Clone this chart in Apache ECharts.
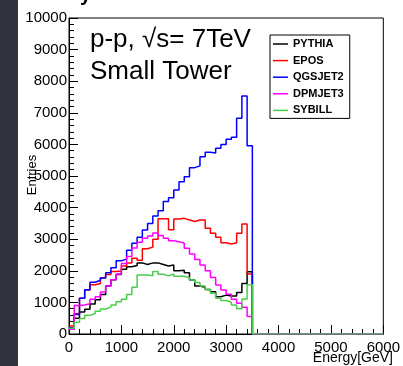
<!DOCTYPE html>
<html>
<head>
<meta charset="utf-8">
<script src="https://cdn.jsdelivr.net/npm/echarts@6/dist/echarts.min.js"></script>
<style>
  html, body { margin: 0; padding: 0; background: #ffffff; }
  #chart { width: 403px; height: 366px; }
</style>
</head>
<body>
<div id="chart"></div>
<script>
// Energy deposit spectra in the small tower, p-p collisions at 7 TeV.
// Bins are 100 GeV wide; the last edge closes the final filled bin.
const binEdges = [0, 100, 200, 300, 400, 500, 600, 700, 800, 900,
  1000, 1100, 1200, 1300, 1400, 1500, 1600, 1700, 1800, 1900,
  2000, 2100, 2200, 2300, 2400, 2500, 2600, 2700, 2800, 2900,
  3000, 3100, 3200, 3300, 3400, 3500];

const pythia = [150, 500, 700, 780, 950, 1080, 1250, 1520, 1720, 1880,
  2050, 2130, 2170, 2250, 2200, 2250, 2250, 2200, 2150, 2180,
  2000, 2020, 1940, 1710, 1520, 1480, 1410, 1340, 1180, 1230,
  1200, 1200, 1310, 1600, 1970];

const epos = [250, 640, 1130, 1390, 1560, 1600, 1780, 1880, 1980, 1990,
  2150, 2250, 2400, 2330, 2700, 2750, 3000, 3650, 3650, 3300,
  3640, 3660, 3610, 3560, 3610, 3610, 3350, 3190, 3060, 2890,
  2850, 2890, 3190, 3480, 1900];

const qgsjet2 = [200, 620, 1130, 1400, 1640, 1700, 1770, 1940, 2100, 2320,
  2370, 2650, 2870, 3060, 3290, 3500, 3735, 3900, 4190, 4315,
  4560, 4820, 4980, 5265, 5320, 5610, 5750, 5730, 5880, 6000,
  6160, 6225, 6830, 7530, 5960];

const dpmjet3 = [150, 900, 920, 960, 1100, 1180, 1330, 1520, 1720, 1900,
  2230, 2450, 2720, 2900, 3030, 3100, 3200, 3120, 3030, 2950,
  2920, 2870, 2710, 2530, 2360, 2180, 2000, 1790, 1550, 1390,
  1255, 1100, 970, 850, 550];

const sybill = [180, 370, 490, 590, 650, 720, 790, 850, 920, 1020,
  1100, 1250, 1480, 1870, 1870, 1840, 1980, 1890, 1840, 1900,
  1830, 1830, 1780, 1710, 1630, 1520, 1410, 1290, 1130, 1060,
  1000, 920, 800, 1110, 1560];

const seriesNames = ['PYTHIA', 'EPOS', 'QGSJET2', 'DPMJET3', 'SYBILL'];
const seriesValues = [pythia, epos, qgsjet2, dpmjet3, sybill];
const seriesColors = ['#000000', '#ff0000', '#0000ff', '#ff00ff', '#4ccc4c'];

const X_MIN = 0, X_MAX = 6000, X_STEP = 1000;
const Y_MIN = 0, Y_MAX = 10000, Y_STEP = 1000;

const FONT = '"Liberation Sans", Arial, Helvetica, sans-serif';

// Histogram outline: each bin is drawn from its lower edge, then the
// spectrum is empty (zero) up to the end of the axis.
function histData(values) {
  const pts = values.map((v, i) => [binEdges[i], v]);
  pts.push([binEdges[binEdges.length - 1], 0]);
  pts.push([X_MAX, 0]);
  return pts;
}

const plainNumber = v => String(v);

const chart = echarts.init(document.getElementById('chart'), null, { renderer: 'canvas' });

const axisBlack = { color: '#000000', width: 1 };

chart.setOption({
  animation: false,
  backgroundColor: '#ffffff',
  textStyle: { fontFamily: FONT },
  grid: {
    left: 69, right: 10, top: 18, bottom: 32,
    show: true, borderColor: '#000000', borderWidth: 1,
    backgroundColor: '#ffffff'
  },
  legend: {
    orient: 'vertical',
    left: 270, top: 35,
    data: seriesNames,
    icon: 'rect',
    backgroundColor: '#ffffff',
    borderColor: '#000000',
    borderWidth: 1,
    borderRadius: 0,
    padding: [3, 6, 2, 3],
    itemWidth: 15,
    itemHeight: 1.5,
    itemGap: 4.6,
    itemTextGap: 5,
    textStyle: { fontFamily: FONT, fontSize: 11, fontWeight: 'bold', color: '#000000', lineHeight: 12 }
  },
  xAxis: {
    type: 'value',
    min: X_MIN, max: X_MAX, interval: X_STEP,
    axisLine: { show: true, lineStyle: axisBlack },
    axisTick: { show: true, inside: true, length: 9, lineStyle: axisBlack },
    minorTick: { show: true, splitNumber: 5, length: 5, lineStyle: axisBlack },
    splitLine: { show: false },
    axisLabel: { color: '#000000', fontSize: 15, fontFamily: FONT, margin: 6, formatter: plainNumber }
  },
  yAxis: {
    type: 'value',
    min: Y_MIN, max: Y_MAX, interval: Y_STEP,
    axisLine: { show: true, lineStyle: axisBlack },
    axisTick: { show: true, inside: true, length: 9, lineStyle: axisBlack },
    minorTick: { show: true, splitNumber: 5, length: 5, lineStyle: axisBlack },
    splitLine: { show: false },
    axisLabel: { color: '#000000', fontSize: 15, fontFamily: FONT, margin: 2, formatter: plainNumber }
  },
  series: seriesNames.map((name, i) => ({
    name: name,
    type: 'line',
    step: 'end',
    symbol: 'none',
    clip: true,
    color: seriesColors[i],
    lineStyle: { color: seriesColors[i], width: 1.5 },
    data: histData(seriesValues[i]),
    z: 2 + i
  })),
  graphic: [
    // dark slide margin on the left edge
    { type: 'rect', left: 0, top: 0, shape: { x: 0, y: 0, width: 18, height: 366 },
      style: { fill: '#30333b' }, z: 100 },
    // tail of the slide heading above the plot
    { type: 'text', x: 80, y: 5, z: 100,
      style: { text: 'y', font: 'bold 20px ' + FONT, fill: '#000000', verticalAlign: 'bottom' } },
    { type: 'text', x: 90, y: 27, z: 100,
      style: { text: 'p-p, \u221As= 7TeV', font: '26px ' + FONT, fill: '#000000', verticalAlign: 'top' } },
    { type: 'text', x: 90, y: 59, z: 100,
      style: { text: 'Small Tower', font: '26px ' + FONT, fill: '#000000', verticalAlign: 'top' } },
    { type: 'text', x: 32, y: 175, rotation: Math.PI / 2, z: 100,
      style: { text: 'Entries', font: '13px ' + FONT, fill: '#000000', align: 'center', verticalAlign: 'middle' } },
    { type: 'text', x: 393, y: 358, z: 100,
      style: { text: 'Energy[GeV]', font: '14px ' + FONT, fill: '#000000', align: 'right', verticalAlign: 'middle' } }
  ]
});
</script>
</body>
</html>
